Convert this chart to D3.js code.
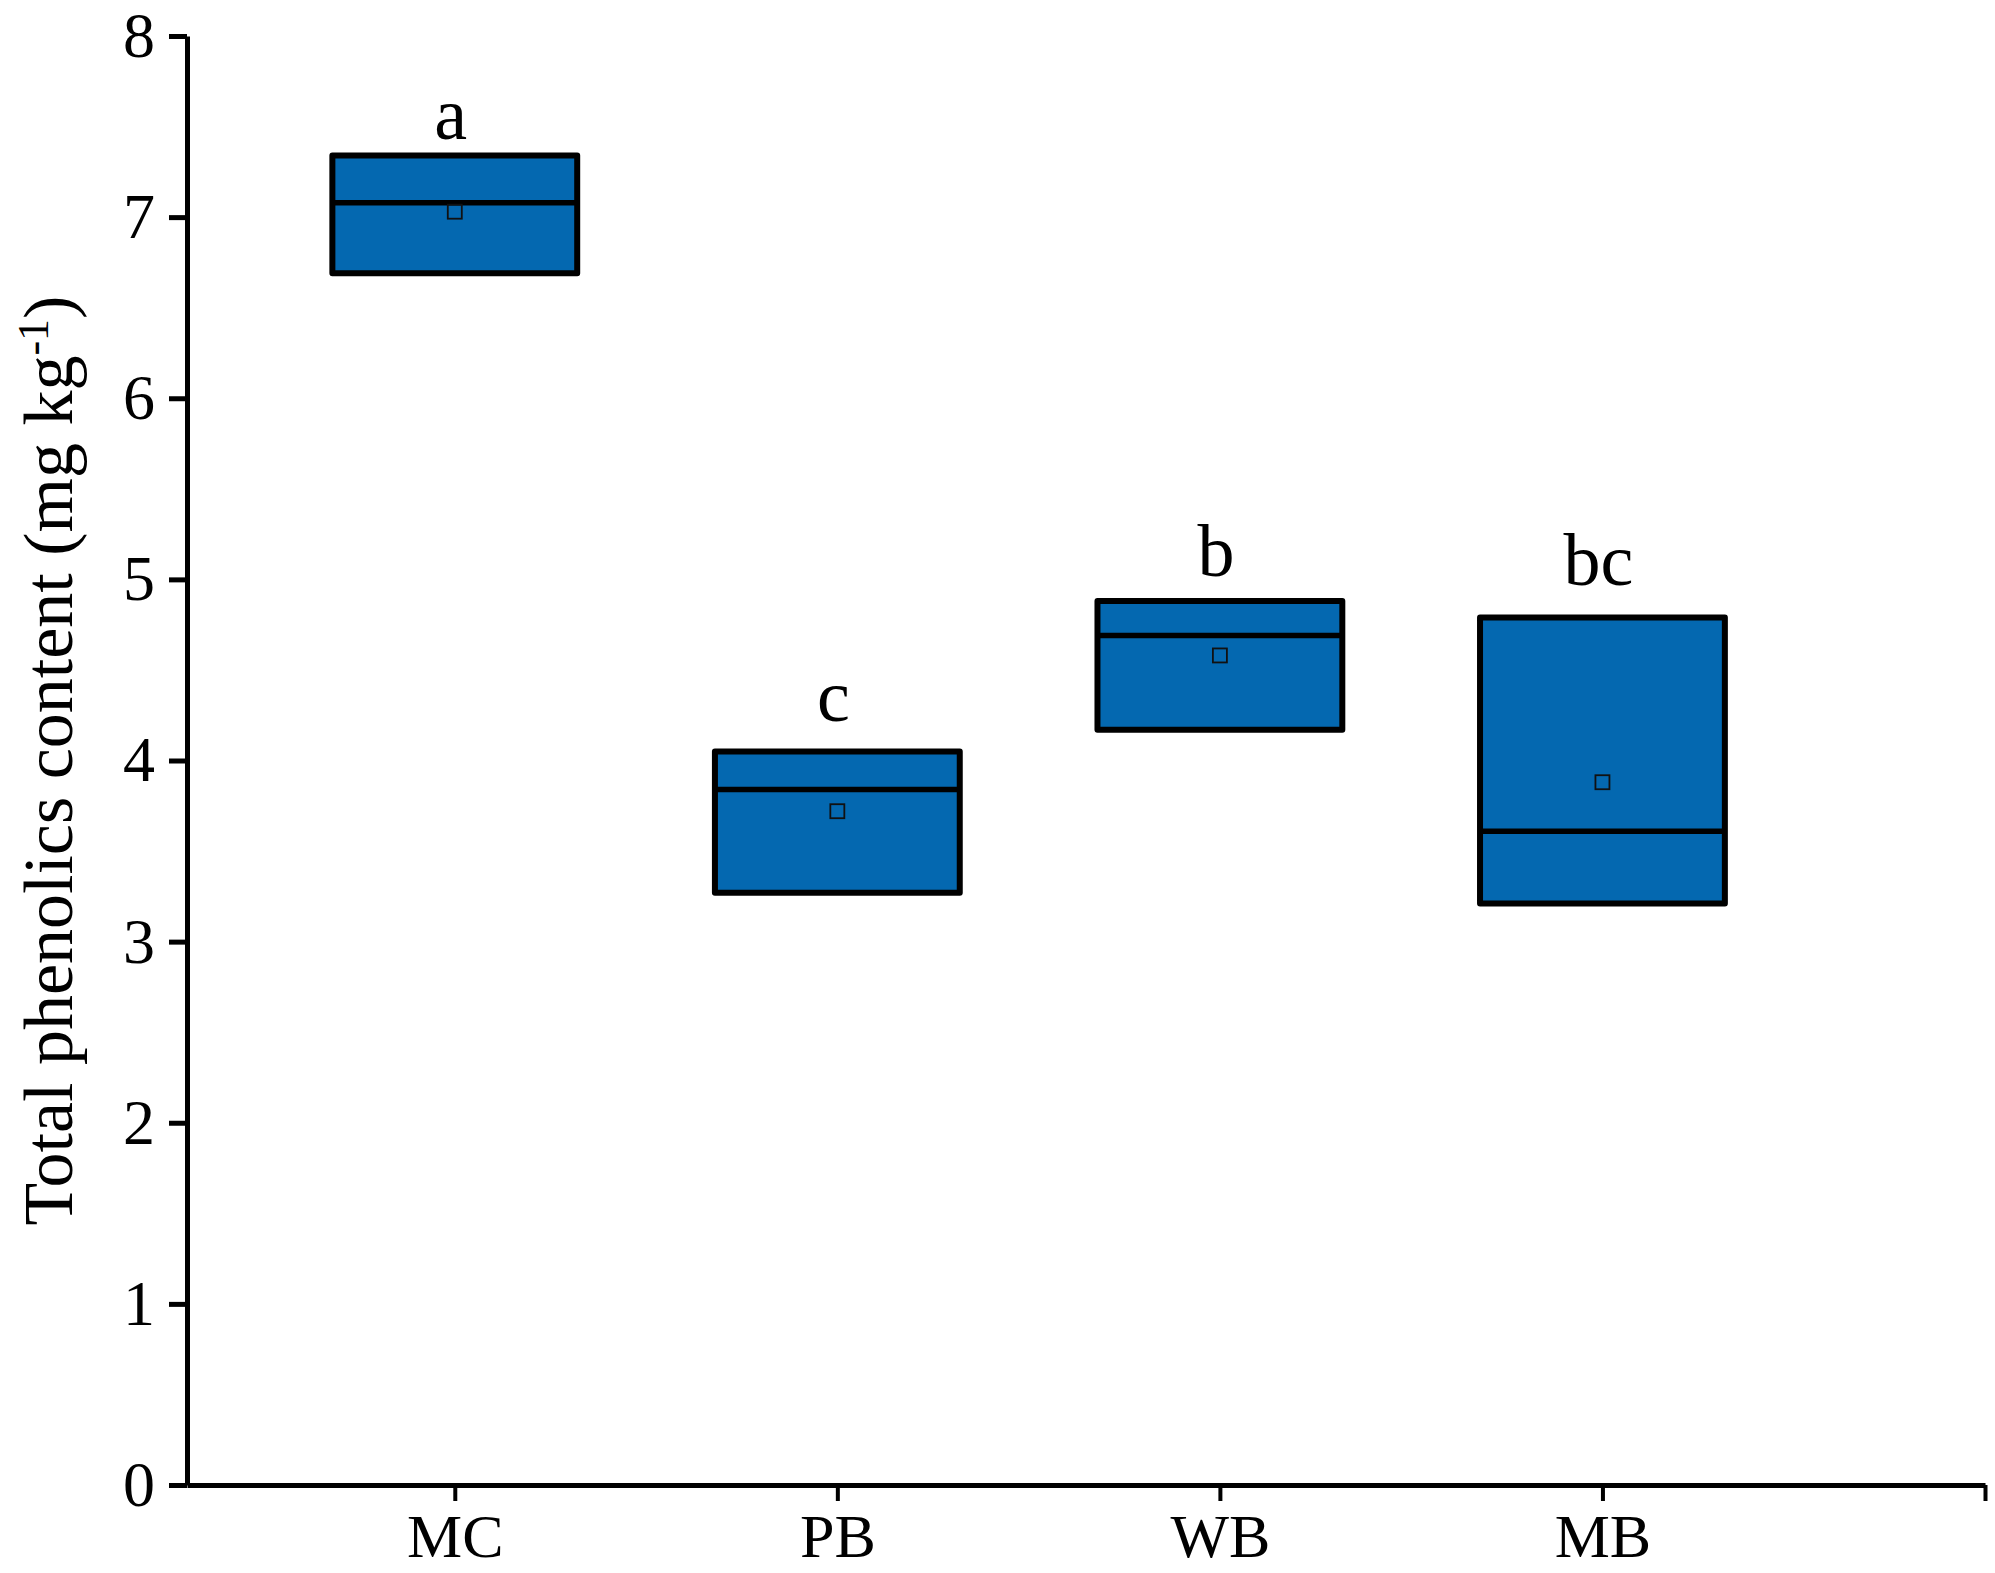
<!DOCTYPE html>
<html lang="en">
<head>
    <meta charset="UTF-8">
    <title>Total phenolics content</title>
    <script src="https://d3js.org/d3.v7.min.js"></script>
    <style>
        body { margin: 0; background: #fff; }
        svg { display: block; }
        text { font-family: "Liberation Serif", "Times New Roman", serif; fill: #000; }
    </style>
</head>
<body>
    <svg width="1995" height="1573"></svg>

    <script>
        // Values (box = 25th..75th percentile)
        const categories = ["MC", "PB", "WB", "MB"];
        const q1 = [6.69, 3.27, 4.17, 3.21];
        const q3 = [7.34, 4.05, 4.88, 4.79];
        const medians = [7.08, 3.84, 4.69, 3.61];
        const means = [7.03, 3.72, 4.58, 3.88];
        const letters = ["a", "c", "b", "bc"];
        const letterY = [7.43, 4.22, 5.02, 4.97];
        const yTicks = [0, 1, 2, 3, 4, 5, 6, 7, 8];

        const data = categories.map((c, i) => ({
            cat: c, pos: i + 1, q1: q1[i], q3: q3[i],
            median: medians[i], mean: means[i],
            letter: letters[i], letterY: letterY[i]
        }));

        const svg = d3.select("svg");
        const boxWidth = 0.64;

        // Scales
        const x = d3.scaleLinear().domain([0.3, 5]).range([187, 1985]);
        const y = d3.scaleLinear().domain([0, 8]).range([1485, 36]);

        // Boxes
        const boxes = svg.append("g");
        boxes.selectAll("rect")
            .data(data)
            .join("rect")
            .attr("x", d => x(d.pos - boxWidth / 2))
            .attr("width", d => x(d.pos + boxWidth / 2) - x(d.pos - boxWidth / 2))
            .attr("y", d => y(d.q3))
            .attr("height", d => y(d.q1) - y(d.q3))
            .attr("fill", "#0468B0")
            .attr("stroke", "#000")
            .attr("stroke-width", 6)
            .attr("stroke-linejoin", "round");

        // Median lines
        boxes.selectAll("line.median")
            .data(data)
            .join("line")
            .attr("class", "median")
            .attr("x1", d => x(d.pos - boxWidth / 2))
            .attr("x2", d => x(d.pos + boxWidth / 2))
            .attr("y1", d => y(d.median))
            .attr("y2", d => y(d.median))
            .attr("stroke", "#000")
            .attr("stroke-width", 5.5);

        // Mean markers
        const sq = 14;
        boxes.selectAll("rect.mean")
            .data(data)
            .join("rect")
            .attr("class", "mean")
            .attr("x", d => x(d.pos) - sq / 2)
            .attr("y", d => y(d.mean) - sq / 2)
            .attr("width", sq)
            .attr("height", sq)
            .attr("fill", "none")
            .attr("stroke", "#111")
            .attr("stroke-width", 1.8);

        // Significance letters
        svg.append("g").selectAll("text")
            .data(data)
            .join("text")
            .attr("x", d => x(d.pos) - 4)
            .attr("y", d => y(d.letterY))
            .attr("text-anchor", "middle")
            .style("font-size", "74px")
            .text(d => d.letter);

        // X axis
        const xAxis = svg.append("g")
            .attr("transform", `translate(0, ${y(0)})`)
            .call(d3.axisBottom(x)
                .tickValues([1, 2, 3, 4, 5])
                .tickFormat(d => categories[d - 1] || "")
                .tickSize(16)
                .tickPadding(12)
                .tickSizeOuter(0));
        xAxis.select(".domain").attr("stroke-width", 5);
        xAxis.selectAll(".tick line").attr("stroke-width", 4);
        xAxis.selectAll("text").style("font-size", "62px")
            .attr("font-family", null);

        // Y axis
        const yAxis = svg.append("g")
            .attr("transform", `translate(${x(0.3)}, 0)`)
            .call(d3.axisLeft(y)
                .tickValues(yTicks)
                .tickSize(18)
                .tickPadding(14)
                .tickSizeOuter(0));
        yAxis.select(".domain").attr("stroke-width", 5);
        yAxis.selectAll(".tick line").attr("stroke-width", 5);
        yAxis.selectAll("text").style("font-size", "64px")
            .attr("font-family", null);

        // Y axis title
        const title = svg.append("text")
            .attr("transform", `translate(72, ${(y(0) + y(8)) / 2}) rotate(-90)`)
            .attr("text-anchor", "middle")
            .style("font-size", "70px");
        title.append("tspan").text("Total phenolics content (mg kg");
        title.append("tspan").attr("baseline-shift", "super").style("font-size", "44px").text("-1");
        title.append("tspan").text(")");
    </script>
</body>
</html>
